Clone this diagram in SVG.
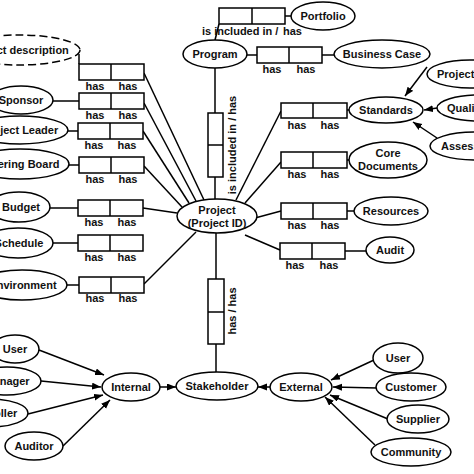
<svg xmlns="http://www.w3.org/2000/svg" width="474" height="474" viewBox="0 0 474 474">
<style>
.e{fill:#fff;stroke:#000;stroke-width:1.5}
.d{fill:#fff;stroke:#000;stroke-width:1.5;stroke-dasharray:8 4}
.b{fill:#fff;stroke:#000;stroke-width:1.5}
.l{stroke:#000;stroke-width:1.5;fill:none}
.t{font-family:"Liberation Sans",Arial,sans-serif;font-weight:bold;font-size:11px;fill:#111;text-anchor:middle}
.s{text-anchor:start}
</style>
<defs>
<marker id="ah" markerUnits="userSpaceOnUse" markerWidth="10" markerHeight="8" refX="9" refY="3.5" orient="auto">
<path d="M0,0 L9,3.5 L0,7 z" fill="#000"/>
</marker>
</defs>
<rect width="474" height="474" fill="#fff"/>
<g id="connectors">
<line class="l" x1="79" y1="54" x2="79" y2="64"/>
<line class="l" x1="53" y1="101" x2="79" y2="101"/>
<line class="l" x1="68" y1="131" x2="78" y2="131"/>
<line class="l" x1="69" y1="165" x2="79" y2="165"/>
<line class="l" x1="50" y1="208" x2="78" y2="208"/>
<line class="l" x1="53" y1="243" x2="78" y2="243"/>
<line class="l" x1="67" y1="285" x2="79" y2="285"/>
<line class="l" x1="144" y1="73" x2="204" y2="200"/>
<line class="l" x1="144" y1="103" x2="196" y2="201"/>
<line class="l" x1="143" y1="131" x2="189" y2="203"/>
<line class="l" x1="144" y1="166" x2="182" y2="207"/>
<line class="l" x1="143" y1="208" x2="177" y2="213"/>
<line class="l" x1="144" y1="284" x2="196" y2="232"/>
<line class="l" x1="215" y1="68" x2="215" y2="113"/>
<line class="l" x1="215" y1="177" x2="215" y2="199"/>
<line class="l" x1="215" y1="40" x2="219" y2="24"/>
<line class="l" x1="285" y1="16" x2="291" y2="16"/>
<line class="l" x1="247" y1="55" x2="257" y2="55"/>
<line class="l" x1="322" y1="55" x2="334" y2="55"/>
<line class="l" x1="236" y1="200" x2="281" y2="111"/>
<line class="l" x1="245" y1="203" x2="281" y2="162"/>
<line class="l" x1="255" y1="218" x2="281" y2="211"/>
<line class="l" x1="245" y1="235" x2="280" y2="250"/>
<line class="l" x1="347" y1="110" x2="349" y2="110"/>
<line class="l" x1="347" y1="160" x2="349" y2="160"/>
<line class="l" x1="347" y1="211" x2="354" y2="211"/>
<line class="l" x1="345" y1="251" x2="366" y2="251"/>
<line class="l" x1="427" y1="67" x2="405" y2="96" marker-end="url(#ah)"/>
<line class="l" x1="437" y1="108" x2="424" y2="110" marker-end="url(#ah)"/>
<line class="l" x1="437" y1="138" x2="413" y2="122" marker-end="url(#ah)"/>
<line class="l" x1="216" y1="233" x2="216" y2="279"/>
<line class="l" x1="216" y1="344" x2="216" y2="372"/>
<line class="l" x1="39" y1="350" x2="104" y2="375" marker-end="url(#ah)"/>
<line class="l" x1="41" y1="381" x2="101" y2="387" marker-end="url(#ah)"/>
<line class="l" x1="28" y1="414" x2="103" y2="395" marker-end="url(#ah)"/>
<line class="l" x1="63" y1="446" x2="110" y2="400" marker-end="url(#ah)"/>
<line class="l" x1="160" y1="387" x2="176" y2="387" marker-end="url(#ah)"/>
<line class="l" x1="270" y1="387" x2="258" y2="387" marker-end="url(#ah)"/>
<line class="l" x1="374" y1="360" x2="331" y2="380" marker-end="url(#ah)"/>
<line class="l" x1="377" y1="388" x2="333" y2="387" marker-end="url(#ah)"/>
<line class="l" x1="388" y1="419" x2="330" y2="395" marker-end="url(#ah)"/>
<line class="l" x1="375" y1="445" x2="325" y2="397" marker-end="url(#ah)"/>
</g>
<g id="project-description"><ellipse class="d" cx="19" cy="50" rx="61" ry="15"/><text class="t" x="19" y="54">Project description</text></g>
<g id="sponsor"><ellipse class="e" cx="21" cy="100" rx="32" ry="14"/><text class="t" x="21" y="104">Sponsor</text></g>
<g id="project-leader"><ellipse class="e" cx="20" cy="130" rx="48" ry="14"/><text class="t" x="20" y="134">Project Leader</text></g>
<g id="steering-board"><ellipse class="e" cx="20" cy="164" rx="49" ry="15"/><text class="t" x="20" y="168">Steering Board</text></g>
<g id="budget"><ellipse class="e" cx="19" cy="207" rx="31" ry="15"/><text class="t" x="21" y="211">Budget</text></g>
<g id="schedule"><ellipse class="e" cx="18" cy="243" rx="35" ry="15"/><text class="t" x="19" y="247">Schedule</text></g>
<g id="environment"><ellipse class="e" cx="22" cy="285" rx="45" ry="15"/><text class="t" x="23" y="289">Environment</text></g>
<g id="program"><ellipse class="e" cx="215" cy="54" rx="32" ry="14"/><text class="t" x="215" y="58">Program</text></g>
<g id="portfolio"><ellipse class="e" cx="323" cy="16" rx="32" ry="14"/><text class="t" x="323" y="20">Portfolio</text></g>
<g id="business-case"><ellipse class="e" cx="382" cy="54" rx="48" ry="14"/><text class="t" x="382" y="58">Business Case</text></g>
<g id="standards"><ellipse class="e" cx="386" cy="110" rx="37" ry="13"/><text class="t" x="386" y="114">Standards</text></g>
<g id="project-std"><ellipse class="e" cx="470" cy="74" rx="43" ry="14"/><text class="t s" x="437" y="78">Project</text></g>
<g id="quality"><ellipse class="e" cx="480" cy="108" rx="43" ry="13"/><text class="t s" x="447" y="112">Quality</text></g>
<g id="assessment"><ellipse class="e" cx="475" cy="146" rx="45" ry="14"/><text class="t s" x="441" y="150">Assessment</text></g>
<g id="core-documents"><ellipse class="e" cx="388" cy="160" rx="39" ry="18"/><text class="t" x="388" y="157">Core</text><text class="t" x="388" y="170">Documents</text></g>
<g id="resources"><ellipse class="e" cx="391" cy="211" rx="37" ry="14"/><text class="t" x="391" y="215">Resources</text></g>
<g id="audit"><ellipse class="e" cx="390" cy="250" rx="24" ry="13"/><text class="t" x="390" y="254">Audit</text></g>
<g id="project"><ellipse class="e" cx="217" cy="216" rx="40" ry="17"/><text class="t" x="217" y="214">Project</text><text class="t" x="217" y="227">(Project ID)</text></g>
<g id="stakeholder"><ellipse class="e" cx="217" cy="386" rx="41" ry="14"/><text class="t" x="217" y="390">Stakeholder</text></g>
<g id="internal"><ellipse class="e" cx="131" cy="387" rx="29" ry="14"/><text class="t" x="131" y="391">Internal</text></g>
<g id="external"><ellipse class="e" cx="301" cy="387" rx="31" ry="14"/><text class="t" x="301" y="391">External</text></g>
<g id="user-int"><ellipse class="e" cx="15" cy="349" rx="24" ry="14"/><text class="t" x="15" y="353">User</text></g>
<g id="manager"><ellipse class="e" cx="7" cy="381" rx="34" ry="14"/><text class="t" x="7" y="385">Manager</text></g>
<g id="controller"><ellipse class="e" cx="-9" cy="413" rx="37" ry="14"/><text class="t" x="-9" y="417">Controller</text></g>
<g id="auditor"><ellipse class="e" cx="34" cy="446" rx="29" ry="14"/><text class="t" x="34" y="450">Auditor</text></g>
<g id="user-ext"><ellipse class="e" cx="398" cy="358" rx="25" ry="15"/><text class="t" x="398" y="362">User</text></g>
<g id="customer"><ellipse class="e" cx="411" cy="387" rx="35" ry="14"/><text class="t" x="411" y="391">Customer</text></g>
<g id="supplier"><ellipse class="e" cx="418" cy="419" rx="31" ry="14"/><text class="t" x="418" y="423">Supplier</text></g>
<g id="community"><ellipse class="e" cx="411" cy="452" rx="40" ry="14"/><text class="t" x="411" y="456">Community</text></g>
<g id="rel-desc"><rect class="b" x="79" y="64" width="65" height="16"/><line class="l" x1="111" y1="64" x2="111" y2="80"/><text class="t" x="95" y="90">has</text><text class="t" x="128" y="90">has</text></g>
<g id="rel-sponsor"><rect class="b" x="79" y="93" width="65" height="16"/><line class="l" x1="111" y1="93" x2="111" y2="109"/><text class="t" x="95" y="119">has</text><text class="t" x="128" y="119">has</text></g>
<g id="rel-leader"><rect class="b" x="78" y="123" width="65" height="16"/><line class="l" x1="110" y1="123" x2="110" y2="139"/><text class="t" x="94" y="149">has</text><text class="t" x="127" y="149">has</text></g>
<g id="rel-steering"><rect class="b" x="79" y="157" width="65" height="16"/><line class="l" x1="111" y1="157" x2="111" y2="173"/><text class="t" x="95" y="183">has</text><text class="t" x="128" y="183">has</text></g>
<g id="rel-budget"><rect class="b" x="78" y="200" width="65" height="16"/><line class="l" x1="110" y1="200" x2="110" y2="216"/><text class="t" x="94" y="226">has</text><text class="t" x="127" y="226">has</text></g>
<g id="rel-schedule"><rect class="b" x="78" y="235" width="65" height="16"/><line class="l" x1="110" y1="235" x2="110" y2="251"/><text class="t" x="94" y="261">has</text><text class="t" x="127" y="261">has</text></g>
<g id="rel-environment"><rect class="b" x="79" y="277" width="65" height="16"/><line class="l" x1="111" y1="277" x2="111" y2="293"/><text class="t" x="95" y="302">has</text><text class="t" x="128" y="302">has</text></g>
<g id="rel-portfolio"><rect class="b" x="219" y="8" width="66" height="16"/><line class="l" x1="252" y1="8" x2="252" y2="24"/><text class="t s" x="202" y="35">is included in /</text><text class="t s" x="283" y="35">has</text></g>
<g id="rel-business"><rect class="b" x="257" y="47" width="65" height="16"/><line class="l" x1="289" y1="47" x2="289" y2="63"/><text class="t" x="272" y="73">has</text><text class="t" x="306" y="73">has</text></g>
<g id="rel-standards"><rect class="b" x="281" y="103" width="66" height="15"/><line class="l" x1="313" y1="103" x2="313" y2="118"/><text class="t" x="297" y="129">has</text><text class="t" x="330" y="129">has</text></g>
<g id="rel-core"><rect class="b" x="281" y="152" width="66" height="16"/><line class="l" x1="313" y1="152" x2="313" y2="168"/><text class="t" x="297" y="178">has</text><text class="t" x="330" y="178">has</text></g>
<g id="rel-resources"><rect class="b" x="281" y="203" width="66" height="16"/><line class="l" x1="313" y1="203" x2="313" y2="219"/><text class="t" x="297" y="229">has</text><text class="t" x="330" y="229">has</text></g>
<g id="rel-audit"><rect class="b" x="280" y="243" width="65" height="16"/><line class="l" x1="312" y1="243" x2="312" y2="259"/><text class="t" x="295" y="269">has</text><text class="t" x="329" y="269">has</text></g>
<g id="rel-program"><rect class="b" x="208" y="113" width="15" height="64"/><line class="l" x1="208" y1="145" x2="223" y2="145"/><text class="t" transform="translate(236,145) rotate(-90)">is included in / has</text></g>
<g id="rel-stakeholder"><rect class="b" x="208" y="279" width="16" height="65"/><line class="l" x1="208" y1="312" x2="224" y2="312"/><text class="t" transform="translate(236,311) rotate(-90)">has / has</text></g>
</svg>
